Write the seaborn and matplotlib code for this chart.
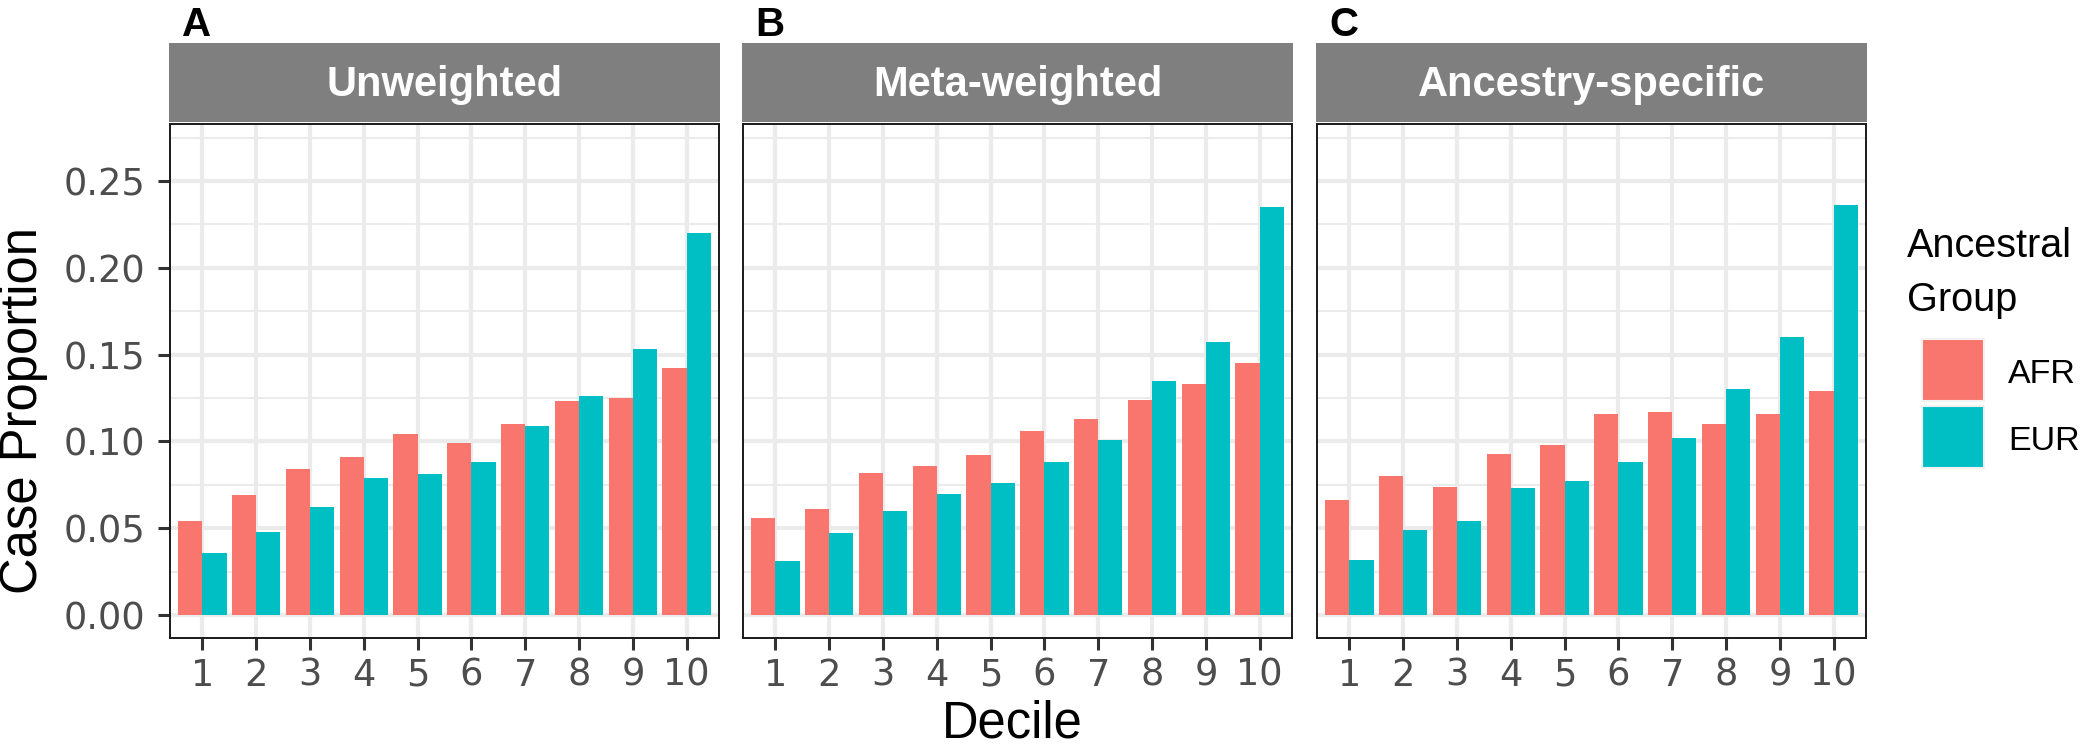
import matplotlib
matplotlib.use("Agg")
import matplotlib.pyplot as plt
from matplotlib.patches import Rectangle
import seaborn as sns
import pandas as pd

# ---- data ----
deciles = ["1", "2", "3", "4", "5", "6", "7", "8", "9", "10"]
groups = ["AFR", "EUR"]
panel_titles = ["Unweighted", "Meta-weighted", "Ancestry-specific"]
panel_tags = ["A", "B", "C"]

unweighted_afr = [0.054, 0.069, 0.084, 0.091, 0.104, 0.099, 0.110, 0.123, 0.125, 0.142]
unweighted_eur = [0.036, 0.048, 0.062, 0.079, 0.081, 0.088, 0.109, 0.126, 0.153, 0.220]
meta_afr = [0.056, 0.061, 0.082, 0.086, 0.092, 0.106, 0.113, 0.124, 0.133, 0.145]
meta_eur = [0.031, 0.047, 0.060, 0.070, 0.076, 0.088, 0.101, 0.135, 0.157, 0.235]
anc_afr = [0.066, 0.080, 0.074, 0.093, 0.098, 0.116, 0.117, 0.110, 0.116, 0.129]
anc_eur = [0.032, 0.049, 0.054, 0.073, 0.077, 0.088, 0.102, 0.130, 0.160, 0.236]

yticks = [0.00, 0.05, 0.10, 0.15, 0.20, 0.25]
ytick_labels = ["0.00", "0.05", "0.10", "0.15", "0.20", "0.25"]
yminor = [0.025, 0.075, 0.125, 0.175, 0.225, 0.275]

palette = {"AFR": "#F8766D", "EUR": "#00BFC4"}
legend_title = ["Ancestral", "Group"]

series = [(unweighted_afr, unweighted_eur), (meta_afr, meta_eur), (anc_afr, anc_eur)]

W, H = 2085, 746
fig = plt.figure(figsize=(W / 100, H / 100), dpi=100)

panel_left_px = [170, 743, 1317]
panel_w_px = 549
ax_top_px, ax_bot_px = 124, 638
strip_top_px = 43

tick_font = "DejaVu Sans"
text_font = ["Liberation Sans", "DejaVu Sans"]


def fy(px):
    return 1 - px / H


def fx(px):
    return px / W


for i, (afr, eur) in enumerate(series):
    df = pd.DataFrame({
        "Decile": deciles * 2,
        "Proportion": list(afr) + list(eur),
        "Group": ["AFR"] * len(deciles) + ["EUR"] * len(deciles),
    })
    ax = fig.add_axes([fx(panel_left_px[i]), fy(ax_bot_px), panel_w_px / W,
                       (ax_bot_px - ax_top_px) / H])
    sns.barplot(data=df, x="Decile", y="Proportion", hue="Group", order=deciles,
                hue_order=groups, palette=palette, saturation=1, width=0.9,
                errorbar=None, linewidth=0, legend=False, ax=ax)
    ax.set_xlim(-0.6, 9.6)
    ax.set_ylim(-0.0132, 0.2828)
    ax.set_yticks(yticks)
    ax.set_yticks(yminor, minor=True)
    ax.set_axisbelow(True)
    ax.grid(which="major", color="#EBEBEB", lw=3.0)
    ax.grid(which="minor", axis="y", color="#EBEBEB", lw=1.5)
    ax.tick_params(which="minor", length=0)
    ax.tick_params(which="major", length=8.6, width=2.2, color="#333333",
                   labelsize=26.5, labelcolor="#4D4D4D", pad=5)
    for lab in ax.get_xticklabels():
        lab.set_fontfamily(tick_font)
    if i == 0:
        ax.set_yticklabels(ytick_labels, fontfamily=tick_font)
        ax.tick_params(axis="y", pad=9)
    else:
        ax.set_yticklabels([])
        ax.tick_params(axis="y", length=0)
    ax.set_xlabel("")
    ax.set_ylabel("")
    for sp in ax.spines.values():
        sp.set_color("#1A1A1A")
        sp.set_linewidth(1.4)

    # facet strip
    sax = fig.add_axes([fx(panel_left_px[i] - 1), fy(ax_top_px - 2),
                        (panel_w_px + 2) / W, (ax_top_px - 2 - strip_top_px) / H])
    sax.set_facecolor("#7F7F7F")
    sax.set_xticks([])
    sax.set_yticks([])
    for sp in sax.spines.values():
        sp.set_visible(False)
    sax.text(0.5, 0.47, panel_titles[i], ha="center", va="center", color="white",
             fontsize=30, fontweight="bold", family=text_font, transform=sax.transAxes)

    # panel tag
    fig.text(fx(panel_left_px[i] + 12), fy(36), panel_tags[i], ha="left",
             va="baseline", fontsize=29, fontweight="bold", family=text_font)

# axis titles
fig.text(fx(24), fy(411), "Case Proportion", rotation=90, ha="center",
         va="center", fontsize=36.5, family=text_font)
fig.text(fx(1012), fy(724), "Decile", ha="center", va="center",
         fontsize=36.5, family=text_font)

# legend (drawn as a guide box to the right of panel C)
fig.text(fx(1907), fy(257), legend_title[0], ha="left", va="baseline",
         fontsize=28.5, family=text_font)
fig.text(fx(1907), fy(311), legend_title[1], ha="left", va="baseline",
         fontsize=28.5, family=text_font)
key_tops = [339, 406]
for g, top in zip(groups, key_tops):
    fig.add_artist(Rectangle((fx(1922), fy(top + 62)), 62 / W, 62 / H,
                             transform=fig.transFigure, facecolor=palette[g],
                             edgecolor="#F2F2F2", linewidth=1.5))
    fig.text(fx(2008), fy(top + 44), g, ha="left", va="baseline",
             fontsize=24.5, family=text_font)

fig.savefig("out.png", dpi=100)
